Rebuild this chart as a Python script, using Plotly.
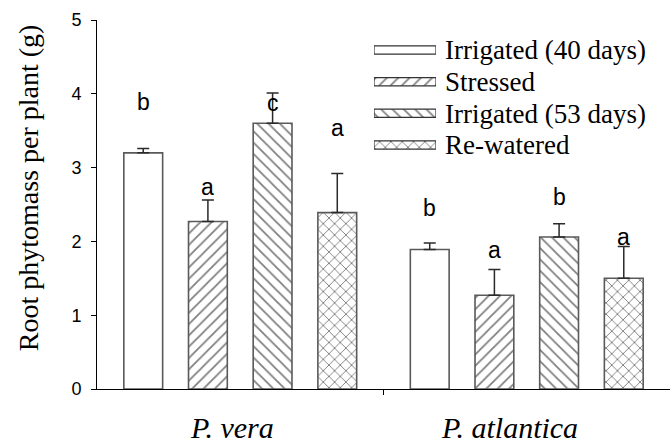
import plotly.graph_objects as go

# ---------------- data ----------------
species = ["P. vera", "P. atlantica"]
treatments = ["Irrigated (40 days)", "Stressed", "Irrigated (53 days)", "Re-watered"]
patterns = ["", "/", "\\", "x"]

root_mass = {
    "Irrigated (40 days)": [3.20, 1.89],
    "Stressed": [2.27, 1.27],
    "Irrigated (53 days)": [3.60, 2.06],
    "Re-watered": [2.39, 1.50],
}
root_se = {
    "Irrigated (40 days)": [0.06, 0.09],
    "Stressed": [0.29, 0.35],
    "Irrigated (53 days)": [0.41, 0.18],
    "Re-watered": [0.53, 0.43],
}
letters = {
    "Irrigated (40 days)": ["b", "b"],
    "Stressed": ["a", "a"],
    "Irrigated (53 days)": ["c", "b"],
    "Re-watered": ["a", "a"],
}
# vertical placement of significance letters (data units)
letter_y = {
    "Irrigated (40 days)": [3.89, 2.45],
    "Stressed": [2.74, 1.88],
    "Irrigated (53 days)": [3.87, 2.60],
    "Re-watered": [3.53, 2.06],
}
y_ticks = [0, 1, 2, 3, 4, 5]

SERIF = "Times New Roman, Liberation Serif, serif"
SANS = "Arial, Liberation Sans, sans-serif"
OUTLINE = "#5a5a5a"

bargap = 0.097
bargroupgap = 0.4
xs = list(range(len(species)))

fig = go.Figure()
for t, pat in zip(treatments, patterns):
    fig.add_trace(go.Bar(
        x=xs, y=root_mass[t], name=t, showlegend=False,
        marker=dict(color="white", line=dict(color=OUTLINE, width=1.6),
                    pattern=dict(shape=pat, fgcolor="black", bgcolor="white",
                                 size=8, solidity=0.22)),
        error_y=dict(type="data", symmetric=False, array=root_se[t],
                     arrayminus=[0] * len(xs), color="#2a2a2a",
                     thickness=1.5, width=6),
    ))

# significance letters
n = len(treatments)
slot = (1 - bargap) / n
annotations = []
for i, t in enumerate(treatments):
    off = (i - (n - 1) / 2) * slot
    for j, xv in enumerate(xs):
        annotations.append(dict(
            x=xv + off, y=letter_y[t][j], xref="x", yref="y",
            text=letters[t][j], showarrow=False,
            font=dict(family=SANS, size=23, color="black"),
            xanchor="center", yanchor="middle"))

# species labels
for j, s in enumerate(species):
    annotations.append(dict(
        x=xs[j] - 0.03 * (j + 1), y=-0.104, xref="x", yref="paper",
        text=f"<i>{s}</i>", showarrow=False,
        font=dict(family=SERIF, size=30, color="black"),
        xanchor="center", yanchor="middle"))

# y-axis title
annotations.append(dict(
    x=-0.118, y=0.545, xref="paper", yref="paper",
    text="Root phytomass per plant (g)", textangle=-90, showarrow=False,
    font=dict(family=SERIF, size=28, color="black"),
    xanchor="center", yanchor="middle"))

# custom legend swatches drawn on a hidden pair of axes
fig.add_trace(go.Bar(
    y=treatments, x=[1] * n, base=0, orientation="h", width=0.26,
    xaxis="x2", yaxis="y2", showlegend=False, hoverinfo="skip",
    marker=dict(color="white", line=dict(color="#333333", width=1.2),
                pattern=dict(shape=patterns, fgcolor="black", bgcolor="white",
                             size=8, solidity=0.22)),
))

fig.update_layout(
    width=670, height=445,
    margin=dict(l=97, r=0, t=20, b=56),
    paper_bgcolor="white", plot_bgcolor="white",
    barmode="group", bargap=bargap, bargroupgap=bargroupgap,
    annotations=annotations,
    xaxis=dict(range=[-0.5, len(species) - 0.5], showline=True,
               linecolor="black", linewidth=1, showgrid=False, zeroline=False,
               tickvals=xs, ticktext=[""] * len(xs), ticks="",
               showticklabels=False,
               minor=dict(tickvals=[0.5], ticks="outside", ticklen=5,
                          tickcolor="black", tickwidth=1)),
    yaxis=dict(range=[0, 5], tickvals=y_ticks, showline=True,
               linecolor="black", linewidth=1, showgrid=False, zeroline=False,
               ticks="outside", ticklen=5, tickcolor="black",
               tickfont=dict(family=SANS, size=18, color="black"),
               ticklabelstandoff=6),
    xaxis2=dict(domain=[0.4834, 0.5916], anchor="y2", range=[0, 1],
                visible=False, fixedrange=True),
    yaxis2=dict(domain=[0.6184, 0.9615], anchor="x2", type="category",
                categoryarray=treatments, categoryorder="array",
                tickmode="array", tickvals=treatments, ticktext=treatments,
                range=[n - 0.5, -0.5], side="right", showline=False,
                showgrid=False, zeroline=False, ticks="",
                tickfont=dict(family=SERIF, size=27, color="black"),
                ticklabelstandoff=8),
)

fig.write_html("out.html",
               config={"displayModeBar": False},
               post_script="document.body.style.margin='0';"
                           "document.body.style.overflow='hidden';")
